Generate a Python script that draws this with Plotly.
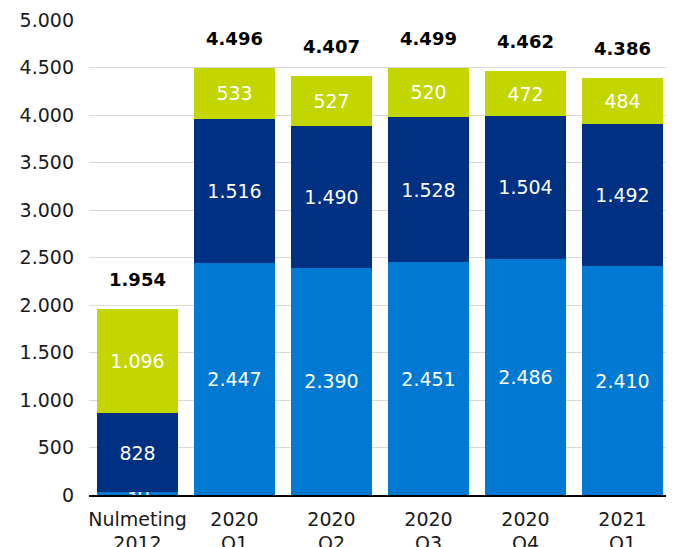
import plotly.graph_objects as go

categories = ["Nulmeting<br>2012", "2020<br>Q1", "2020<br>Q2", "2020<br>Q3", "2020<br>Q4", "2021<br>Q1"]
bottom_vals = [30, 2447, 2390, 2451, 2486, 2410]
middle_vals = [828, 1516, 1490, 1528, 1504, 1492]
top_vals = [1096, 533, 527, 520, 472, 484]
totals = [1954, 4496, 4407, 4499, 4462, 4386]
y_ticks = [0, 500, 1000, 1500, 2000, 2500, 3000, 3500, 4000, 4500, 5000]


def nl(v):
    return f"{v:,}".replace(",", ".")


FONT = "DejaVu Sans"
fig = go.Figure()
for vals, color in [(bottom_vals, "#0079D3"), (middle_vals, "#003082"), (top_vals, "#C4D600")]:
    fig.add_trace(go.Bar(
        x=categories, y=vals, marker=dict(color=color, line=dict(width=0)),
        text=[nl(v) for v in vals], textposition="inside", insidetextanchor="middle",
        textangle=0, constraintext="none",
        textfont=dict(family=FONT, size=19, color="white"),
        hoverinfo="skip",
    ))

for c, t in zip(categories, totals):
    fig.add_annotation(x=c, y=t, text=f"<b>{nl(t)}</b>", showarrow=False,
                       yanchor="bottom", yshift=17,
                       font=dict(family=FONT, size=18, color="black"))

fig.update_layout(
    barmode="stack", bargap=0.165, showlegend=False,
    width=666, height=539,
    margin=dict(l=81, r=3, t=12, b=52),
    paper_bgcolor="white", plot_bgcolor="white",
    font=dict(family=FONT, size=19, color="#1a1a1a"),
)
fig.update_yaxes(range=[0, 5000], tickvals=y_ticks, ticktext=[nl(v) for v in y_ticks],
                 showgrid=True, gridcolor="#d9d9d9", gridwidth=1, zeroline=False,
                 showline=False, ticks="", ticklabelstandoff=14, automargin=False,
                 tickfont=dict(family=FONT, size=19, color="#1a1a1a"))
fig.update_xaxes(showline=True, linecolor="black", linewidth=1.5, ticks="",
                 ticklabelstandoff=6, automargin=False,
                 tickfont=dict(family=FONT, size=19, color="#1a1a1a"))

fig.write_html("out.html")
